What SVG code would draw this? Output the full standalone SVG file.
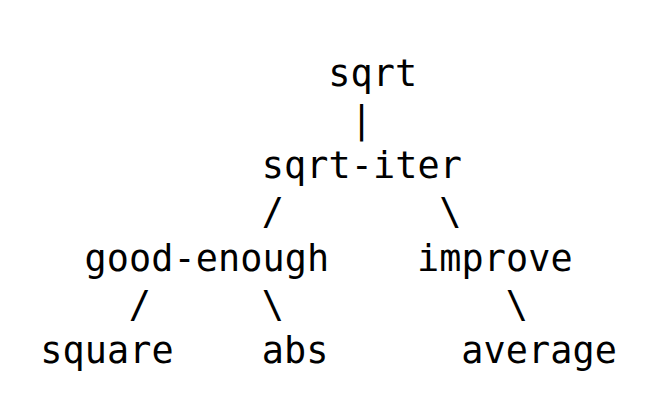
<svg xmlns="http://www.w3.org/2000/svg" width="658" height="418" viewBox="0 0 658 418">
<style>
text{font-family:"DejaVu Sans Mono","Liberation Mono",monospace;font-size:36.8px;fill:#000;letter-spacing:0.1px;}
</style>
<rect width="658" height="418" fill="#fff"/>
<g id="connectors">
<text x="350.4" y="131.75">|</text>
<text x="261.8" y="224.25">/</text>
<text x="439.2" y="224.25">\</text>
<text x="128.8" y="316.75">/</text>
<text x="261.8" y="316.75">\</text>
<text x="505.8" y="316.75">\</text>
</g>
<g id="node-sqrt"><text x="328.3" y="85.5">sqrt</text></g>
<g id="node-sqrt-iter"><text x="261.8" y="178">sqrt-iter</text></g>
<g id="node-good-enough"><text x="84.5" y="270.5">good-enough</text></g>
<g id="node-improve"><text x="417" y="270.5">improve</text></g>
<g id="node-square"><text x="40.2" y="363">square</text></g>
<g id="node-abs"><text x="261.8" y="363">abs</text></g>
<g id="node-average"><text x="461.3" y="363">average</text></g>
</svg>
